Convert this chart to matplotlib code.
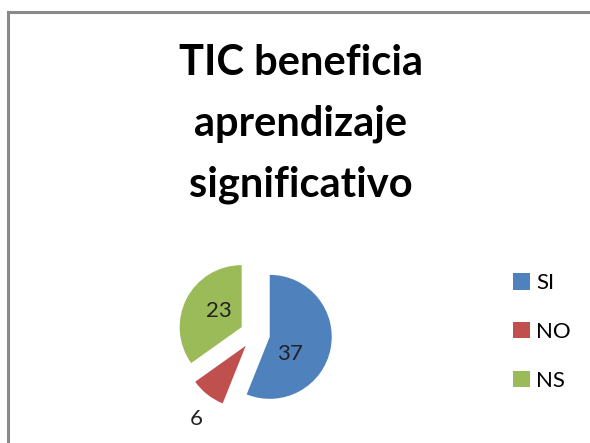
import numpy as np
import matplotlib
matplotlib.use("Agg")
import matplotlib.pyplot as plt
from matplotlib.patches import Rectangle

# datos del grafico
categorias = ["SI", "NO", "NS"]
valores = [37, 6, 23]
colores = ["#4F81BD", "#C0504D", "#9BBB59"]
titulo = "TIC beneficia\naprendizaje\nsignificativo"

W, H = 590, 443
fig = plt.figure(figsize=(W / 100, H / 100), dpi=100)
ax = fig.add_axes([0, 0, 1, 1])

# marco gris (solo se ven arriba e izquierda)
ax.add_patch(Rectangle((8, -20), W + 40, H - 12 + 20, fill=False, ec="#8a8a8a", lw=2.2))

centro = (255, H - 334)
radio = 62
sep = 15  # separacion de las porciones, en pixeles
wedges, _ = ax.pie(valores, colors=colores, startangle=90, counterclock=False,
                   explode=[sep] * len(valores), center=centro, radius=radio,
                   wedgeprops=dict(linewidth=0), frame=True)
ax.set_xlim(0, W)
ax.set_ylim(0, H)
ax.axis("off")

# etiquetas con los valores (como "mejor ajuste" de excel)
distancias = [0.42, 1.42, 0.45]
giro = [-29, 4, -8]
for w, v, d, g in zip(wedges, valores, distancias, giro):
    ang = np.deg2rad((w.theta1 + w.theta2) / 2 + g)
    cx, cy = w.center
    ax.text(cx + d * radio * np.cos(ang), cy + d * radio * np.sin(ang), str(v),
            ha="center", va="center", fontsize=16, family="Lato", color="#222222")

fig.text(301 / W, 1 - 124 / H, titulo, ha="center", va="center", fontsize=30,
         fontweight="bold", family="Lato", linespacing=1.72)

ax.legend(wedges, categorias, loc="center left", bbox_to_anchor=(493 / W, 1 - 332 / H),
          frameon=False, prop=dict(family="Lato", size=16), handlelength=0.75,
          handleheight=0.75, handletextpad=0.3, labelspacing=1.3)

fig.savefig("out.png", dpi=100)
